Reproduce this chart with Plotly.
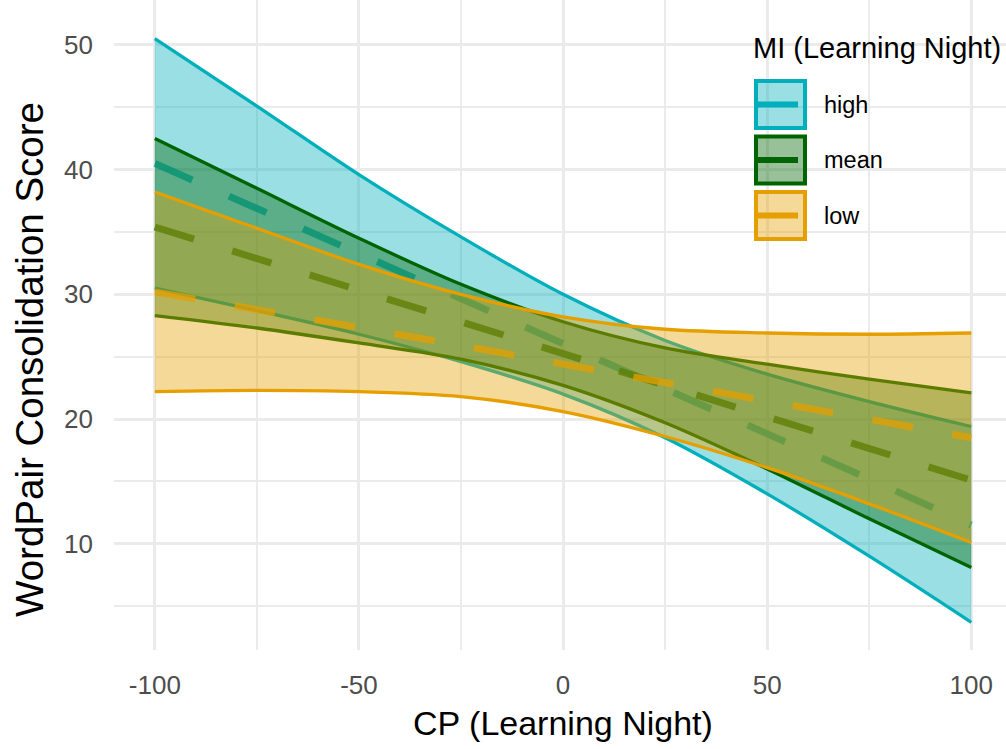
import plotly.graph_objects as go

# ---------------- data ----------------
cp = [-100, -75, -50, -25, 0, 25, 50, 75, 100]

high_fit   = [40.5, 36.9, 33.2, 29.6, 26.0, 22.4, 18.8, 15.2, 11.5]
high_upper = [50.5, 45.1, 39.6, 34.6, 30.0, 26.3, 23.6, 21.4, 19.4]
high_lower = [30.5, 28.7, 26.8, 24.6, 22.0, 18.5, 14.0, 9.0, 3.7]

mean_fit   = [35.4, 32.9, 30.3, 27.8, 25.25, 22.7, 20.2, 17.6, 15.1]
mean_upper = [42.5, 38.5, 34.5, 30.8, 27.8, 25.7, 24.4, 23.2, 22.1]
mean_lower = [28.3, 27.3, 26.1, 24.8, 22.7, 19.7, 16.0, 12.0, 8.1]

low_fit   = [30.2, 28.8, 27.3, 25.9, 24.4, 22.9, 21.5, 20.0, 18.5]
low_upper = [38.2, 35.3, 32.4, 30.0, 28.2, 27.2, 26.9, 26.8, 26.9]
low_lower = [22.2, 22.3, 22.2, 21.8, 20.6, 18.6, 16.1, 13.2, 10.1]

group_names = ["high", "mean", "low"]
x_tickvals = [-100, -50, 0, 50, 100]
x_ticktext = ["-100", "-50", "0", "50", "100"]
y_tickvals = [10, 20, 30, 40, 50]
y_ticktext = ["10", "20", "30", "40", "50"]

# ---------------- styling ----------------
colors = {"high": (0, 175, 187), "mean": (0, 100, 0), "low": (230, 159, 0)}


def rgba(c, a):
    return f"rgba({c[0]},{c[1]},{c[2]},{a})"


series = {
    "high": (high_lower, high_upper, high_fit),
    "mean": (mean_lower, mean_upper, mean_fit),
    "low": (low_lower, low_upper, low_fit),
}

W, H = 1006, 749
ML, MR, MT, MB = 114, 0, 0, 99
PW, PH = W - ML - MR, H - MT - MB
FONT = "Liberation Sans, Arial"

fig = go.Figure()
for g in group_names:
    lo, up, fit = series[g]
    c = colors[g]
    fig.add_trace(go.Scatter(
        x=cp, y=lo, mode="lines", showlegend=False, hoverinfo="skip",
        line=dict(color=rgba(c, 1), width=3.3, shape="spline", smoothing=0.9)))
    fig.add_trace(go.Scatter(
        x=cp, y=up, mode="lines", showlegend=False, hoverinfo="skip",
        fill="tonexty", fillcolor=rgba(c, 0.4),
        line=dict(color=rgba(c, 1), width=3.3, shape="spline", smoothing=0.9)))
    fig.add_trace(go.Scatter(
        x=cp, y=fit, mode="lines", showlegend=False, name=g,
        line=dict(color=rgba(c, 0.75), width=7, dash="41px,40px")))


def pxx(px):
    return (px - ML) / PW


def pxy(py):
    return (H - MB - py) / PH


shapes = []
annotations = []
# custom legend (ggplot style keys)
key_left, key_right = 754, 807
for i, g in enumerate(group_names):
    c = colors[g]
    top = 79 + 55.5 * i
    bottom = top + 51
    shapes.append(dict(type="rect", xref="paper", yref="paper",
                       x0=pxx(key_left + 2), x1=pxx(key_right - 2),
                       y0=pxy(bottom - 2), y1=pxy(top + 2),
                       line=dict(color=rgba(c, 1), width=4),
                       fillcolor=rgba(c, 0.4), layer="above"))
    cy = (top + bottom) / 2
    shapes.append(dict(type="line", xref="paper", yref="paper",
                       x0=pxx(key_left + 2), x1=pxx(798), y0=pxy(cy), y1=pxy(cy),
                       line=dict(color=rgba(c, 1), width=6), layer="above"))
    annotations.append(dict(text=g, xref="paper", yref="paper", x=pxx(822), y=pxy(cy),
                            xanchor="left", yanchor="middle", showarrow=False,
                            font=dict(size=23.5, color="black", family=FONT)))

annotations.append(dict(text="MI (Learning Night)", xref="paper", yref="paper",
                        x=pxx(751), y=pxy(48), xanchor="left", yanchor="middle",
                        showarrow=False,
                        font=dict(size=29, color="black", family=FONT)))
annotations.append(dict(text="CP (Learning Night)", xref="paper", yref="paper",
                        x=pxx(563), y=pxy(723), xanchor="center", yanchor="middle",
                        showarrow=False,
                        font=dict(size=34, color="black", family=FONT)))
annotations.append(dict(text="WordPair Consolidation Score", xref="paper", yref="paper",
                        x=pxx(29), y=pxy(360), xanchor="center", yanchor="middle",
                        textangle=-90, showarrow=False,
                        font=dict(size=38.5, color="black", family=FONT)))

grid_major = "#EBEBEB"
fig.update_layout(
    width=W, height=H,
    margin=dict(l=ML, r=MR, t=MT, b=MB, pad=0),
    paper_bgcolor="white", plot_bgcolor="white",
    showlegend=False,
    shapes=shapes, annotations=annotations,
    font=dict(family=FONT, color="#4D4D4D"),
    xaxis=dict(range=[-110, 108.5], tickvals=x_tickvals, ticktext=x_ticktext,
               showgrid=True, gridcolor=grid_major, gridwidth=3, zeroline=False,
               showline=False, ticks="", ticklabelstandoff=17,
               tickfont=dict(size=26, color="#4D4D4D"),
               minor=dict(tickvals=[-75, -25, 25, 75], showgrid=True,
                          gridcolor=grid_major, gridwidth=2)),
    yaxis=dict(range=[1.48, 53.6], tickvals=y_tickvals, ticktext=y_ticktext,
               showgrid=True, gridcolor=grid_major, gridwidth=3, zeroline=False,
               showline=False, ticks="", ticklabelstandoff=20,
               tickfont=dict(size=26, color="#4D4D4D"),
               minor=dict(tickvals=[5, 15, 25, 35, 45], showgrid=True,
                          gridcolor=grid_major, gridwidth=2)),
)

fig.write_html("out.html")
